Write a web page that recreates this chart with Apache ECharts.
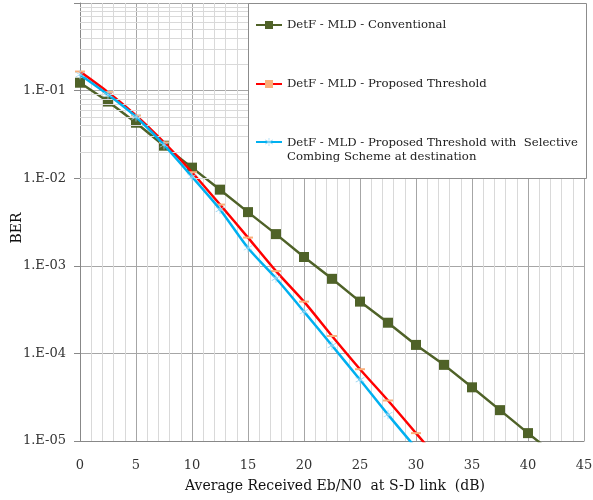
<!DOCTYPE html>
<html><head><meta charset="utf-8">
<script src="https://cdn.jsdelivr.net/npm/echarts@6/dist/echarts.min.js"></script>
<style>html,body{margin:0;padding:0;background:#fff}#c{width:593px;height:500px}</style>
</head><body><div id="c"></div>
<script>
var xValues = [0, 2.5, 5, 7.5, 10, 12.5, 15, 17.5, 20, 22.5, 25, 27.5, 30, 32.5, 35, 37.5, 40, 42.5];
var conventional = [0.123, 0.075, 0.043, 0.0235, 0.0132, 0.0074, 0.0041, 0.0023, 0.00126, 0.00071, 0.00039, 0.000224, 0.000125, 0.000074, 0.000041, 0.0000225, 0.0000123, 0.0000068];
var proposed = [0.165, 0.096, 0.052, 0.0256, 0.0117, 0.0050, 0.0021, 0.00087, 0.00039, 0.000158, 0.000066, 0.000029, 0.0000123, 0.0000052];
var selective = [0.152, 0.090, 0.050, 0.0240, 0.0104, 0.0044, 0.0016, 0.00072, 0.00030, 0.000123, 0.000050, 0.000020, 0.0000083];
var seriesNames = ['DetF - MLD - Conventional', 'DetF - MLD - Proposed Threshold', 'DetF - MLD - Proposed Threshold with  Selective'];
var thirdNameLine2 = 'Combing Scheme at destination';
var minorYValues = [];
[1e-5, 1e-4, 1e-3, 1e-2, 1e-1].forEach(function (d) { for (var k = 2; k <= 9; k++) minorYValues.push(+(d * k).toPrecision(3)); });

function pairs(ys) { return ys.map(function (y, i) { return [xValues[i], y]; }); }
var FONT = 'DejaVu Serif';
var legendText = { fontFamily: FONT, fontSize: 11.7, color: '#222', lineHeight: 15 };
function legendAt(top, name, extra) {
  var l = {
    orient: 'vertical', left: 255, top: top, padding: 0,
    itemWidth: 26, itemHeight: 10, itemGap: 0,
    textStyle: legendText, data: [name], z: 10, selectedMode: false
  };
  for (var k in extra) l[k] = extra[k];
  return l;
}
var chart = echarts.init(document.getElementById('c'));
var star = 'path://M-0.4,-5H0.4V5H-0.4Z M-4.6,-2.3L-4.2,-3L4.6,2.3L4.2,3Z M-4.6,2.3L-4.2,3L4.6,-2.3L4.2,-3Z';
chart.setOption({
  animation: false,
  backgroundColor: '#fff',
  grid: { left: 80, right: 9, top: 3, bottom: 59, outerBoundsMode: 'none', containLabel: false },
  graphic: [{
    type: 'rect', z: 8, silent: true,
    shape: { x: 248.5, y: 3.5, width: 338, height: 175 },
    style: { fill: '#fff', stroke: '#8c8c8c', lineWidth: 1 }
  }],
  legend: [
    legendAt(25 - 7.5, seriesNames[0]),
    legendAt(84 - 7.5, seriesNames[1]),
    legendAt(143 - 22.5, seriesNames[2], {
      formatter: function (n) { return '{s| }\n{t|' + n + '}\n{t|' + thirdNameLine2 + '}'; },
      textStyle: {
        fontFamily: FONT, fontSize: 11.7, color: '#222', lineHeight: 15,
        rich: { s: { fontSize: 2, lineHeight: 15 }, t: { fontFamily: FONT, fontSize: 11.7, color: '#222', lineHeight: 14 } }
      }
    })
  ],
  xAxis: {
    type: 'value', min: 0, max: 45, interval: 5,
    name: 'Average Received Eb/N0  at S-D link  (dB)', nameLocation: 'middle', nameGap: 38,
    nameTextStyle: { fontFamily: FONT, fontSize: 14, color: '#111', padding: [0, 0, 0, 6] },
    axisLine: { lineStyle: { color: '#888' } },
    axisTick: { show: false },
    axisLabel: { fontFamily: FONT, fontSize: 13, color: '#333', margin: 18 },
    splitLine: { lineStyle: { color: '#a6a6a6' } },
    minorTick: { show: false, splitNumber: 5 },
    minorSplitLine: { show: true, lineStyle: { color: '#d9d9d9' } }
  },
  yAxis: {
    type: 'log', logBase: 10, min: 1e-5, max: 1,
    name: 'BER', nameLocation: 'middle', nameGap: 56, nameMoveOverlap: false,
    nameTextStyle: { fontFamily: FONT, fontSize: 14, color: '#111', padding: [0, 12, 0, 0] },
    axisLine: { show: true, lineStyle: { color: '#888' } },
    axisTick: { show: true, length: 6, lineStyle: { color: '#888' } },
    axisLabel: {
      fontFamily: FONT, fontSize: 13, color: '#333', margin: 14,
      formatter: function (v) { if (v >= 0.5) return ''; var e = Math.round(Math.log10(v)); return '1.E-' + (e > -10 ? '0' : '') + (-e); }
    },
    splitLine: { lineStyle: { color: '#a6a6a6' } }
  },
  series: [
    {
      name: 'grid', type: 'line', data: [], silent: true, z: 0,
      markLine: {
        silent: true, symbol: 'none', label: { show: false },
        lineStyle: { color: '#d9d9d9', type: 'solid', width: 1 },
        data: minorYValues.map(function (v) { return { yAxis: v }; })
      }
    },
    {
      name: seriesNames[0], type: 'line', data: pairs(conventional), clip: true, z: 3,
      symbol: 'rect', symbolSize: 10, showAllSymbol: true,
      lineStyle: { color: '#4f6228', width: 2.5 },
      itemStyle: { color: '#4f6228' }
    },
    {
      name: seriesNames[1], type: 'line', data: pairs(proposed), clip: true, smooth: 0.25, z: 4,
      symbol: 'rect', symbolSize: [10, 2], showAllSymbol: true,
      lineStyle: { color: '#ff0000', width: 2.5 },
      itemStyle: { color: '#fab07a' }
    },
    {
      name: seriesNames[2], type: 'line', data: pairs(selective), clip: true, smooth: 0.25, z: 5,
      symbol: star, symbolSize: 9, showAllSymbol: true,
      lineStyle: { color: '#00b0f0', width: 2.5 },
      itemStyle: { color: '#9ad6f2' }
    }
  ]
});
</script></body></html>
